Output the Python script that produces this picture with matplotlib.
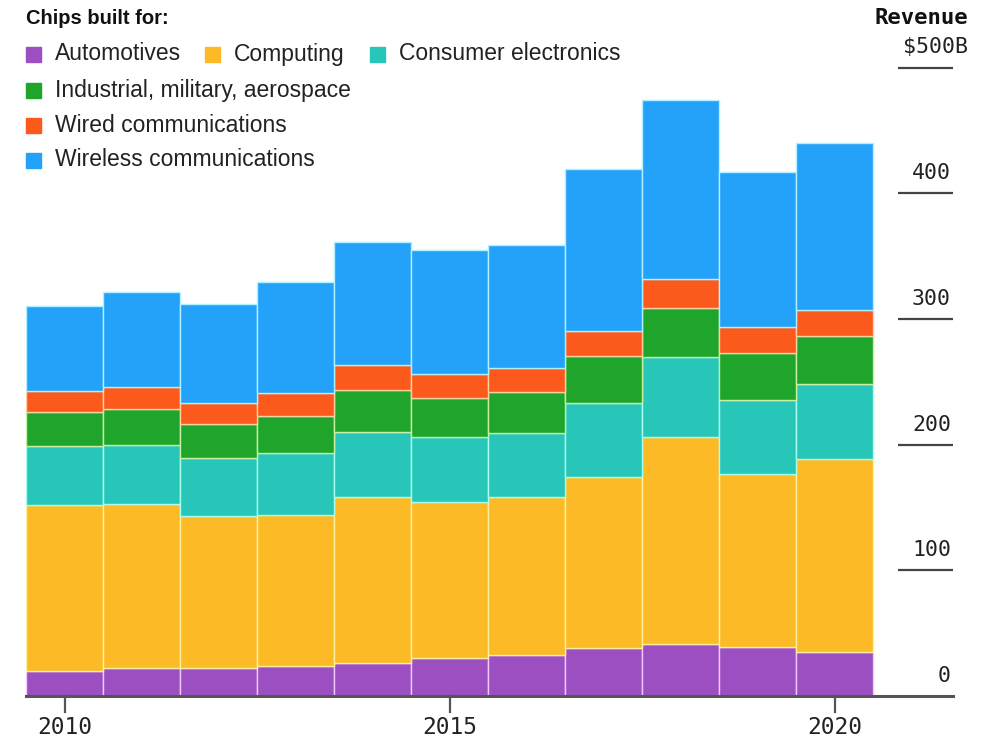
import matplotlib
matplotlib.use("Agg")
import matplotlib.pyplot as plt
from matplotlib.patches import Rectangle
import numpy as np

years = list(range(2010, 2021))
automotives = [20, 22.5, 22.5, 24, 26.5, 30, 32.4, 38.5, 41.1, 38.7, 35.2]
computing = [132, 130, 121, 119.6, 131.5, 124.6, 125.6, 136.1, 164.7, 137.7, 153.1]
consumer = [47, 47, 45.6, 49.5, 52.3, 51.7, 51.5, 58.2, 63.6, 59.1, 59.9]
industrial = [27, 29, 27.3, 30, 33.1, 30.5, 32.6, 37.7, 39.5, 37.6, 38.2]
wired = [17, 17.7, 16.4, 17.8, 19.9, 19.1, 18.5, 19.9, 22.6, 20.7, 20.7]
wireless = [67, 75, 79, 88.8, 97.7, 98.9, 98.2, 128.6, 142.6, 123.3, 133.1]

series_names = ["Automotives", "Computing", "Consumer electronics",
                "Industrial, military, aerospace", "Wired communications",
                "Wireless communications"]
series_values = [automotives, computing, consumer, industrial, wired, wireless]
colors = ["#9b4fc0", "#fbba26", "#27c6b8", "#1fa52b", "#fb5a1c", "#24a2f9"]
edge_colors = ["#f0c8ff", "#fff0a0", "#a8fff0", "#c8f0a0", "#ffd0a0", "#b0f0ff"]

y_ticks = [0, 100, 200, 300, 400, 500]
y_tick_labels = ["0", "100", "200", "300", "400", "$500B"]
x_ticks = [2010, 2015, 2020]
x_tick_labels = ["2010", "2015", "2020"]

W, H = 989, 742
fig = plt.figure(figsize=(W / 100, H / 100), dpi=100)


def fx(px):
    return px / W


def fy(py):
    return 1 - py / H


px_per_year = 77.0
px_per_unit = 1.257
ax = fig.add_axes([fx(26), fy(696), fx(953) - fx(26), fy(0) - fy(696)])
xmin = 2009.5
xmax = xmin + (953 - 26) / px_per_year
ax.set_xlim(xmin, xmax)
ax.set_ylim(0, 696 / px_per_unit)
ax.axis("off")

bottom = np.zeros(len(years))
for vals, c, ec in zip(series_values, colors, edge_colors):
    ax.bar(years, vals, width=1.0, bottom=bottom, color=c, edgecolor=ec,
           linewidth=1.0, zorder=2)
    bottom += np.array(vals)

# baseline
ax.axhline(0, color="#555555", lw=2.2, zorder=3, clip_on=False)

mono = "DejaVu Sans Mono"
grid_x0 = xmin + (898 - 26) / px_per_year
label_right_x = xmin + (951 - 26) / px_per_year
for v, lab in zip(y_ticks, y_tick_labels):
    if v > 0:
        ax.plot([grid_x0, xmax], [v, v], color="#444444", lw=1.6,
                solid_capstyle="butt", zorder=3, clip_on=False)
    xr = label_right_x if v < 500 else xmin + (968 - 26) / px_per_year
    ax.text(xr, v + 20 / px_per_unit, lab, ha="right", va="center",
            fontsize=15.5, family=mono, color="#222222", clip_on=False)

for xt, lab in zip(x_ticks, x_tick_labels):
    ax.plot([xt, xt], [0, -16 / px_per_unit], color="#555555", lw=1.6,
            zorder=3, clip_on=False)
    ax.text(xt, -32 / px_per_unit, lab, ha="center", va="center",
            fontsize=16.5, family=mono, color="#222222", clip_on=False)

# header texts
fig.text(fx(968), fy(18), "Revenue", ha="right", va="center",
         fontsize=16, fontweight="bold", family=mono, color="#111111")
fig.text(fx(26), fy(18), "Chips built for:", ha="left", va="center",
         fontsize=14.5, fontweight="bold", family="Liberation Sans",
         color="#111111")

# legend
legend_pos = [(26, 54), (205, 54), (370, 54), (26, 90), (26, 125), (26, 160)]
sq = 15
for (lx, ly), name, c in zip(legend_pos, series_names, colors):
    fig.patches.append(Rectangle((fx(lx), fy(ly + sq / 2)), sq / W, sq / H,
                                 transform=fig.transFigure, color=c))
    fig.text(fx(lx + 29), fy(ly), name, ha="left", va="center",
             fontsize=16.5, family="Liberation Sans", color="#222222")

fig.savefig("out.png", dpi=100, facecolor="white")
